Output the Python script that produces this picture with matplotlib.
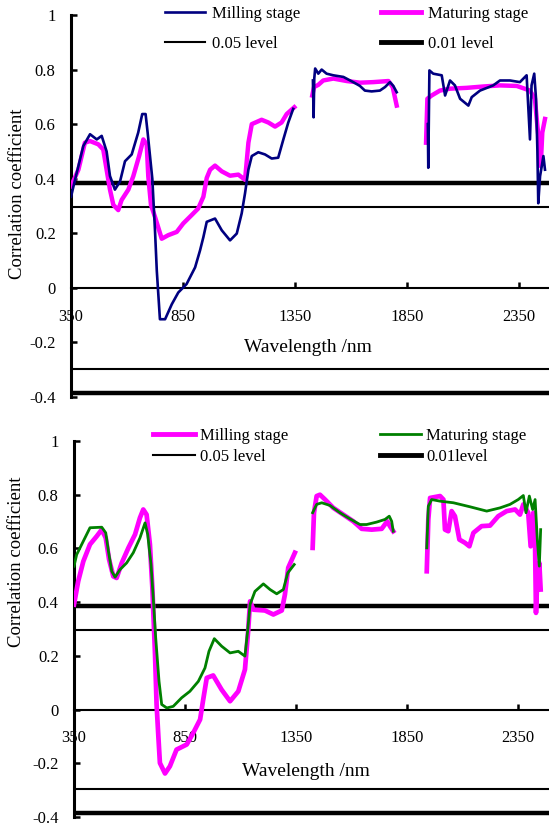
import numpy as np
import matplotlib
matplotlib.use('Agg')
import matplotlib.pyplot as plt
from matplotlib.lines import Line2D

plt.rcParams['font.family'] = ['Liberation Serif', 'DejaVu Serif']

# ---------------- data ----------------
xticks = [350, 850, 1350, 1850, 2350]
yticks = [-0.4, -0.2, 0, 0.2, 0.4, 0.6, 0.8, 1]
ytick_labels = ['-0.4', '-0.2', '0', '0.2', '0.4', '0.6', '0.8', '1']
level_05 = 0.297
level_01 = 0.384
nan = np.nan

# top panel, milling stage (navy)
top_mill_wl = [350, 368, 405, 435, 465, 487, 509, 524, 546, 569, 591, 621, 650, 668, 683, 692, 713, 725, 733,
               747, 770, 800, 829, 866, 904, 926, 941, 956, 993, 1023, 1060, 1090, 1112, 1127, 1142, 1157, 1186,
               1216, 1246, 1275, 1298, 1320, 1342, nan,
               1430, 1433, 1436, 1440, 1454, 1469, 1491, 1521, 1566, 1610, 1640, 1662, 1692, 1729, 1752, 1774,
               1789, 1804, nan,
               1943, 1945, 1950, 1967, 2005, 2020, 2042, 2064, 2087, 2124, 2139, 2176, 2235, 2265, 2310, 2354,
               2384, 2399, 2406, 2418, 2426, 2432, 2436, 2444, 2459, 2466]
top_mill_r = [0.334, 0.396, 0.52, 0.563, 0.544, 0.557, 0.50, 0.41, 0.36, 0.39, 0.464, 0.489, 0.569, 0.637, 0.637,
              0.57, 0.40, 0.21, 0.063, -0.115, -0.115, -0.06, -0.017, 0.014, 0.075, 0.137, 0.186, 0.242, 0.254,
              0.211, 0.174, 0.199, 0.273, 0.347, 0.433, 0.483, 0.497, 0.489, 0.474, 0.477, 0.544, 0.606, 0.656, nan,
              0.76, 0.625, 0.767, 0.804, 0.785, 0.80, 0.785, 0.779, 0.773, 0.754, 0.74, 0.723, 0.72, 0.723, 0.736,
              0.754, 0.74, 0.717, nan,
              0.6, 0.44, 0.797, 0.785, 0.779, 0.705, 0.76, 0.742, 0.693, 0.668, 0.699, 0.723, 0.742, 0.76, 0.76,
              0.754, 0.779, 0.544, 0.742, 0.785, 0.693, 0.507, 0.31, 0.409, 0.483, 0.433]

# top panel, maturing stage (magenta)
top_mat_wl = [350, 383, 412, 435, 472, 494, 509, 524, 539, 561, 576, 606, 628, 654, 673, 688, 695, 707, 725, 755,
              784, 822, 851, 889, 918, 941, 956, 971, 993, 1023, 1060, 1097, 1127, 1142, 1157, 1201, 1231, 1261,
              1290, 1313, 1347, nan,
              1427, 1435, 1454, 1476, 1521, 1581, 1640, 1699, 1767, 1786, 1804, nan,
              1935, 1941, 1960, 1997, 2042, 2116, 2191, 2265, 2340, 2399, 2421, 2432, 2441, 2447, 2454, 2466]
top_mat_r = [0.372, 0.433, 0.532, 0.538, 0.526, 0.507, 0.433, 0.36, 0.304, 0.285, 0.322, 0.36, 0.409, 0.483,
             0.544, 0.526, 0.409, 0.304, 0.26, 0.18, 0.193, 0.205, 0.236, 0.267, 0.291, 0.334, 0.403, 0.433, 0.448,
             0.427, 0.411, 0.415, 0.396, 0.532, 0.60, 0.616, 0.606, 0.591, 0.606, 0.637, 0.662, nan,
             0.705, 0.736, 0.744, 0.760, 0.767, 0.758, 0.752, 0.754, 0.758, 0.736, 0.668, nan,
             0.532, 0.693, 0.705, 0.723, 0.73, 0.733, 0.738, 0.742, 0.74, 0.723, 0.693, 0.594, 0.52, 0.446, 0.569,
             0.619]

# bottom panel, milling stage (magenta)
bot_mill_wl = [350, 369, 392, 422, 452, 475, 493, 508, 527, 542, 565, 595, 625, 647, 662, 677, 692, 703, 715, 722,
               730, 737, 760, 782, 812, 858, 887, 918, 932, 948, 977, 1015, 1053, 1090, 1120, 1135, 1143, 1158,
               1210, 1248, 1286, 1300, 1315, 1345, nan,
               1425, 1431, 1443, 1458, 1481, 1518, 1563, 1608, 1646, 1691, 1736, 1761, 1773, 1788, nan,
               1939, 1946, 1954, 1999, 2014, 2021, 2036, 2051, 2066, 2086, 2111, 2131, 2149, 2186, 2224, 2261,
               2299, 2337, 2359, 2374, 2396, 2407, 2419, 2427, 2431, 2437, 2446, 2452]
bot_mill_r = [0.391, 0.478, 0.552, 0.615, 0.645, 0.67, 0.639, 0.559, 0.496, 0.49, 0.546, 0.602, 0.652, 0.714,
              0.745, 0.726, 0.615, 0.453, 0.205, 0.019, -0.1, -0.199, -0.238, -0.211, -0.149, -0.13, -0.087,
              -0.037, 0.037, 0.118, 0.127, 0.074, 0.031, 0.068, 0.149, 0.298, 0.403, 0.372, 0.369, 0.354, 0.369,
              0.428, 0.528, 0.584, nan,
              0.602, 0.733, 0.795, 0.80, 0.782, 0.751, 0.726, 0.701, 0.673, 0.67, 0.673, 0.701, 0.683, 0.664, nan,
              0.515, 0.708, 0.788, 0.795, 0.782, 0.67, 0.664, 0.739, 0.72, 0.633, 0.621, 0.608, 0.658, 0.683,
              0.685, 0.72, 0.739, 0.745, 0.726, 0.764, 0.733, 0.608, 0.733, 0.608, 0.36, 0.484, 0.546, 0.447]

# bottom panel, maturing stage (green)
bot_mat_wl = [350, 362, 392, 422, 475, 493, 505, 520, 535, 557, 587, 617, 647, 670, 682, 697, 707, 718, 733, 745,
              768, 797, 835, 872, 910, 940, 958, 982, 1015, 1053, 1090, 1120, 1132, 1143, 1165, 1203, 1233, 1263,
              1293, 1313, 1342, nan,
              1425, 1443, 1466, 1503, 1548, 1593, 1638, 1668, 1713, 1751, 1770, 1781, 1788, nan,
              1939, 1946, 1961, 1999, 2059, 2134, 2209, 2269, 2314, 2351, 2374, 2386, 2401, 2416, 2427, 2437,
              2446, 2452]
bot_mat_r = [0.534, 0.577, 0.627, 0.677, 0.679, 0.658, 0.59, 0.515, 0.493, 0.521, 0.546, 0.584, 0.639, 0.695,
             0.652, 0.54, 0.416, 0.267, 0.105, 0.019, 0.006, 0.012, 0.044, 0.068, 0.105, 0.155, 0.217, 0.264,
             0.236, 0.211, 0.217, 0.199, 0.292, 0.391, 0.44, 0.468, 0.447, 0.431, 0.447, 0.509, 0.54, nan,
             0.733, 0.764, 0.77, 0.76, 0.733, 0.71, 0.689, 0.689, 0.698, 0.708, 0.72, 0.701, 0.664, nan,
             0.602, 0.757, 0.782, 0.776, 0.77, 0.755, 0.739, 0.751, 0.764, 0.782, 0.797, 0.733, 0.795, 0.745,
             0.782, 0.633, 0.534, 0.67]

NAVY = '#000080'
MAGENTA = '#ff00ff'
GREEN = '#008000'

W, H = 549, 827
fig = plt.figure(figsize=(W / 100, H / 100), dpi=100)


def style(ax, xmax):
    ax.set_xlim(350, xmax)
    ax.set_ylim(-0.4, 1.0)
    for s in ['top', 'right']:
        ax.spines[s].set_visible(False)
    ax.spines['bottom'].set_position(('data', 0))
    ax.spines['bottom'].set_linewidth(1.5)
    ax.spines['left'].set_linewidth(2.2)
    ax.set_xticks(xticks)
    ax.set_xticklabels([str(t) for t in xticks])
    ax.set_yticks(yticks)
    ax.set_yticklabels(ytick_labels)
    ax.tick_params(axis='x', direction='in', length=4, width=1.8, pad=15, labelsize=12)
    ax.tick_params(axis='y', direction='in', length=4, width=1.8, pad=11, labelsize=12)
    ax.patch.set_alpha(0)
    for lv, lw in [(level_05, 1.5), (-level_05, 1.5), (level_01, 3.2), (-level_01, 3.2)]:
        ax.axhline(lv, color='black', lw=lw, zorder=1)


# ---------- top panel ----------
ax1 = fig.add_axes([71 / W, 1 - 397 / H, 1 - 71 / W, 382 / H])
style(ax1, 350 + (W - 71) / 0.224)
ax1.plot(top_mat_wl, top_mat_r, color=MAGENTA, lw=3.2, zorder=3)
ax1.plot(top_mill_wl, top_mill_r, color=NAVY, lw=1.9, zorder=4)

h1 = [Line2D([], [], color=NAVY, lw=1.9), Line2D([], [], color='black', lw=1.5),
      Line2D([], [], color=MAGENTA, lw=3.5), Line2D([], [], color='black', lw=3.5)]
ax1.legend(h1, ['Milling stage', '0.05 level', 'Maturing stage', '0.01 level'], ncol=2,
           loc='upper left', bbox_to_anchor=(165 / W, 1 - 6 / H), bbox_transform=fig.transFigure,
           frameon=False, borderpad=0, borderaxespad=0, handlelength=2.4, handletextpad=0.45,
           columnspacing=4.8, labelspacing=0.85, fontsize=12)

fig.text(18 / W, 1 - 194 / H, 'Correlation coefficient', rotation=90, ha='center', va='center', fontsize=13.5)
fig.text(308 / W, 1 - 348 / H, 'Wavelength /nm', ha='center', va='center', fontsize=14)

# ---------- bottom panel ----------
ax2 = fig.add_axes([74 / W, 1 - 817 / H, 1 - 74 / W, 376 / H])
style(ax2, 350 + (W - 74) / 0.222)
ax2.plot(bot_mill_wl, bot_mill_r, color=MAGENTA, lw=3.4, zorder=3)
ax2.plot(bot_mat_wl, bot_mat_r, color=GREEN, lw=2.0, zorder=4)

h2 = [Line2D([], [], color=MAGENTA, lw=3.5), Line2D([], [], color='black', lw=1.5),
      Line2D([], [], color=GREEN, lw=2.0), Line2D([], [], color='black', lw=3.5)]
ax2.legend(h2, ['Milling stage', '0.05 level', 'Maturing stage', '0.01level'], ncol=2,
           loc='upper left', bbox_to_anchor=(153 / W, 1 - 428 / H), bbox_transform=fig.transFigure,
           frameon=False, borderpad=0, borderaxespad=0, handlelength=2.5, handletextpad=0.3,
           columnspacing=5.5, labelspacing=0.3, fontsize=12)

fig.text(17 / W, 1 - 562 / H, 'Correlation coefficient', rotation=90, ha='center', va='center', fontsize=13.5)
fig.text(306 / W, 1 - 771 / H, 'Wavelength /nm', ha='center', va='center', fontsize=14)

fig.savefig('out.png', dpi=100)
